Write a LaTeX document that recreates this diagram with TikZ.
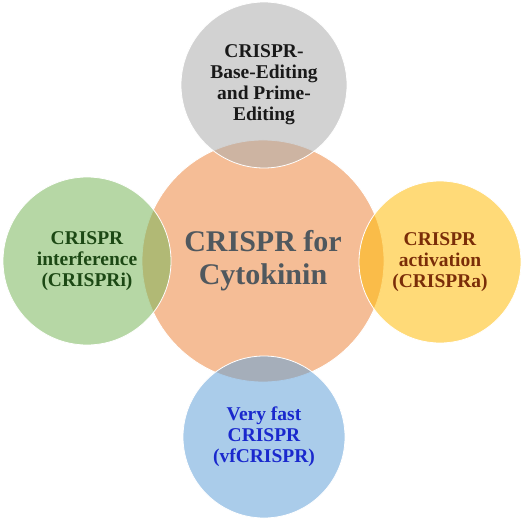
\documentclass[tikz,border=0pt]{standalone}
\usepackage{fontspec}
\setmainfont{Liberation Serif}
\usetikzlibrary{positioning}

\definecolor{hubfill}{RGB}{245,189,150}
\definecolor{hubtext}{RGB}{80,88,94}
\definecolor{greyfill}{RGB}{173,173,173}
\definecolor{greenfill}{RGB}{122,182,91}
\definecolor{yellowfill}{RGB}{255,188,10}
\definecolor{bluefill}{RGB}{100,162,217}
\definecolor{greentext}{RGB}{28,72,20}
\definecolor{browntext}{RGB}{122,45,8}
\definecolor{bluetext}{RGB}{26,40,205}

\begin{document}
\begin{tikzpicture}[
    x=1pt, y=-1pt,
    hub/.style={circle, draw=white, line width=0.8pt, fill=hubfill, inner sep=0pt,
        minimum size=242pt, align=center, text=hubtext,
        font=\fontsize{30}{33}\selectfont\bfseries},
    petal/.style={circle, draw=white, line width=0.8pt, fill opacity=0.55, text opacity=1,
        inner sep=0pt, minimum size=164pt, align=center,
        font=\fontsize{19.5}{21}\selectfont\bfseries}
]
\useasboundingbox (0,0) rectangle (526,521);

\node[hub] (hub) at (263,261) {CRISPR for\\Cytokinin};

\node[petal, fill=greyfill, minimum size=166pt, text=black!90] (edit) at (264,85)
    {CRISPR-\\Base-Editing\\and Prime-\\Editing};
\node[petal, fill=greenfill, minimum size=168pt, text=greentext] (crispri) at (87,261)
    {CRISPR\\interference\\(CRISPRi)};
\node[petal, fill=yellowfill, minimum size=162pt, text=browntext] (crispra) at (440,262)
    {CRISPR\\activation\\(CRISPRa)};
\node[petal, fill=bluefill, minimum size=162pt, text=bluetext] (vf) at (264,437)
    {Very fast\\CRISPR\\(vfCRISPR)};
\end{tikzpicture}
\end{document}
